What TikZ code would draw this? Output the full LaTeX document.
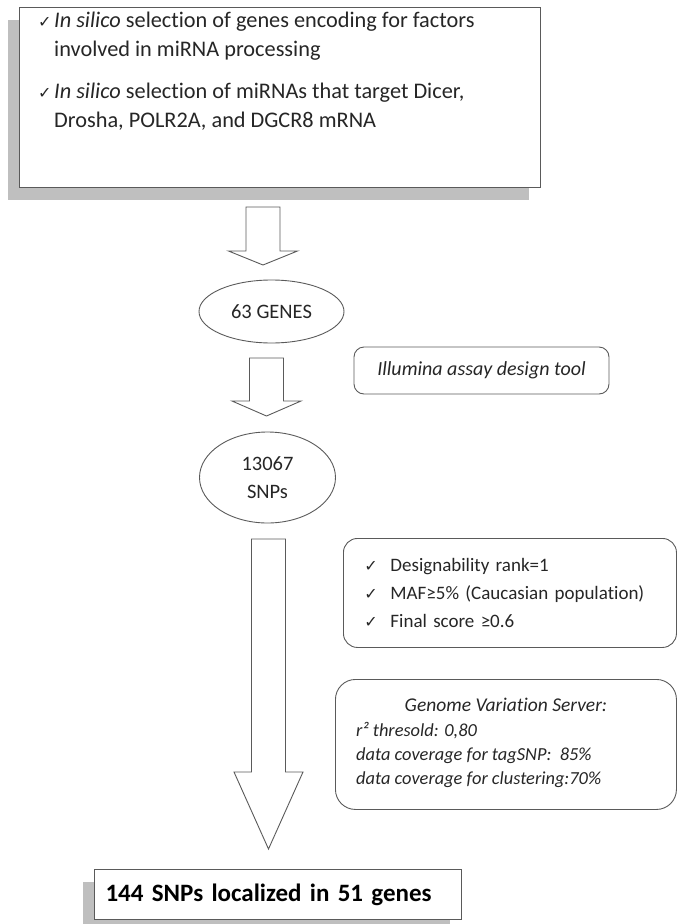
\documentclass[tikz,border=0pt]{standalone}
\usepackage{fontspec}
\setmainfont{Carlito}[Ligatures=NoCommon]
\newfontfamily\symfont{DejaVu Sans}
\usepackage{tikz}
\usetikzlibrary{positioning, shapes.geometric, shadows}

\definecolor{shadowgray}{HTML}{BFBFBF}
\definecolor{linegray}{HTML}{5A5A5A}
\definecolor{textgray}{HTML}{262626}
\newcommand{\chk}{{\symfont\fontsize{16}{16}\selectfont ✓}}

\begin{document}
\begin{tikzpicture}[x=1pt, y=-1pt,
    mainbox/.style={rectangle, draw=linegray, line width=1.1pt, fill=white, anchor=north west, drop shadow={shadow xshift=-12pt, shadow yshift=-12pt, fill=shadowgray, opacity=1}},
    toolbox/.style={rectangle, draw=linegray, line width=0.9pt, rounded corners=14pt, align=left, anchor=north west, text=textgray, font=\fontsize{18.4}{24.7}\selectfont\itshape},
    plaintext/.style={inner sep=0pt, align=left, text=textgray},
    count/.style={ellipse, draw=linegray, line width=0.9pt, minimum width=145, minimum height=63, align=center, text=textgray, font=\fontsize{20.5}{28}\selectfont},
    blockarrow/.style={draw=linegray, line width=0.9pt, fill=white, line join=miter}
]
\useasboundingbox (0,0) rectangle (677,924);

\node[mainbox, minimum width=521, minimum height=180] (selection) at (19,7) {};
\node[plaintext, anchor=north west, font=\fontsize{22.3}{29}\selectfont] (selectionText) at (38,12) {%
\makebox[16pt][l]{\chk}\textit{In silico} selection of genes encoding for factors\\
\hspace*{16pt}involved in miRNA processing\\[13pt]
\makebox[16pt][l]{\chk}\textit{In silico} selection of miRNAs that target Dicer,\\
\hspace*{16pt}Drosha, POLR2A, and DGCR8 mRNA};

\node[count] (genes) at (271.5,311.5) {63 GENES};
\node[count, minimum width=136, minimum height=91] (snps) at (267.5,477.5) {13067\\SNPs};

\node[toolbox, rounded corners=10pt, minimum width=255, minimum height=47, align=center, anchor=center, font=\fontsize{20}{24}\selectfont\itshape] (illumina) at (481.5,370.5) {Illumina assay design tool};

\node[toolbox, font=\fontsize{19}{28}\selectfont, text width=291, inner xsep=21, minimum height=109] (criteria) at (343,538) {%
\makebox[26pt][l]{\chk}Designability rank=1\\
\makebox[26pt][l]{\chk}MAF≥5\% (Caucasian population)\\
\makebox[26pt][l]{\chk}Final score ≥0.6};

\node[toolbox, rounded corners=20pt, minimum width=341, minimum height=130] (gvs) at (335,679) {};
\node[plaintext, font=\fontsize{19.5}{24}\selectfont\itshape, below=19pt of gvs.north] (gvsTitle) {Genome Variation Server:};
\node[plaintext, anchor=north west, font=\fontsize{18.4}{24.3}\selectfont\itshape] (gvsText) at (356,722) {%
r² thresold: 0,80\\
data coverage for tagSNP:\ \ 85\%\\
data coverage for clustering:70\%};

\node[mainbox, minimum width=367, minimum height=50, text width=345, inner xsep=11, align=left, text=black, font=\fontsize{25}{28}\selectfont\bfseries] (result) at (94,869) {144 SNPs localized in 51 genes};

\foreach \cx/\ytop/\yhead/\ytip in {263/207/251/265, 266.5/358/401/416, 268.5/539/772/849}
    \draw[blockarrow] (\cx-17,\ytop) -- (\cx+17,\ytop) -- (\cx+17,\yhead) -- (\cx+34.5,\yhead)
        -- (\cx,\ytip) -- (\cx-34.5,\yhead) -- (\cx-17,\yhead) -- cycle;

\end{tikzpicture}
\end{document}
